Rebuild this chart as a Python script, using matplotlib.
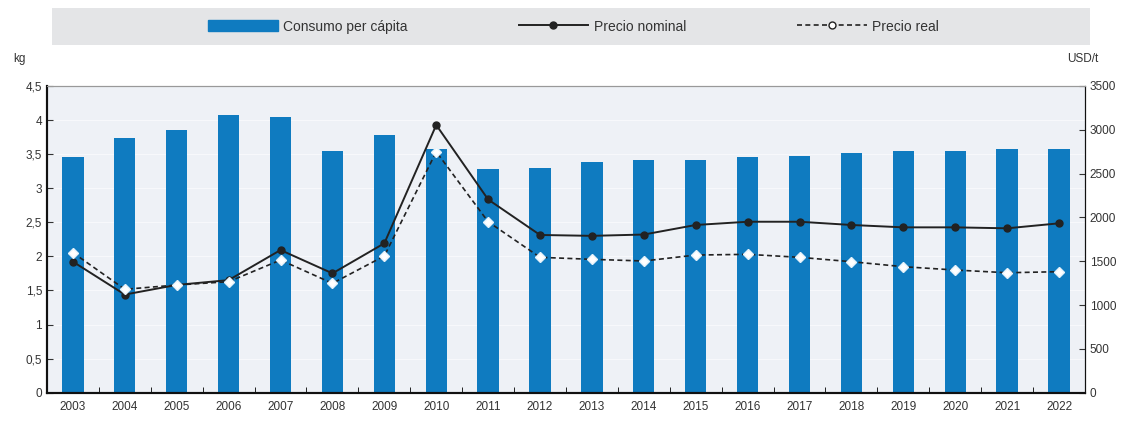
import matplotlib.pyplot as plt
from matplotlib.lines import Line2D
from matplotlib.patches import Patch, Rectangle
from matplotlib.ticker import FuncFormatter, MultipleLocator

plt.rcParams['font.family'] = ['Liberation Sans Narrow', 'Liberation Sans', 'DejaVu Sans']

# datos
years = [str(y) for y in range(2003, 2023)]
consumo = [3.46, 3.74, 3.86, 4.08, 4.04, 3.54, 3.78, 3.58, 3.28, 3.30,
           3.38, 3.42, 3.42, 3.46, 3.47, 3.51, 3.54, 3.55, 3.58, 3.58]
precio_nominal = [1495, 1120, 1230, 1285, 1628, 1362, 1705, 3055, 2205, 1800,
                  1790, 1805, 1914, 1951, 1951, 1914, 1887, 1887, 1876, 1933]
precio_real = [1598, 1180, 1229, 1267, 1514, 1248, 1560, 2750, 1951, 1545,
               1522, 1503, 1571, 1579, 1545, 1495, 1438, 1400, 1369, 1381]

azul = '#0f7bc0'
x = range(len(years))

fig = plt.figure(figsize=(11.38, 4.23), dpi=100)
ax = fig.add_axes([0.0413, 0.0716, 0.9121, 0.7251])
ax.set_facecolor('#eef1f6')
ax.bar(x, consumo, width=0.41, color=azul, zorder=2)
ax.set_xlim(-0.5, len(years) - 0.5)
ax.set_ylim(0, 4.5)
ax.yaxis.set_major_locator(MultipleLocator(0.5))
ax.yaxis.set_major_formatter(FuncFormatter(lambda v, p: ('%g' % v).replace('.', ',')))
ax.set_xticks(list(x))
ax.set_xticklabels(years)
ax.set_xticks([i + 0.5 for i in range(len(years) - 1)], minor=True)
ax.tick_params(axis='x', which='major', length=0, pad=6)
ax.tick_params(axis='x', which='minor', length=4, direction='in')
ax.tick_params(axis='y', length=4, direction='in')
ax.tick_params(labelsize=8.5, colors='#333333')
ax.grid(axis='y', color='#f7f8fb', linewidth=0.8, zorder=0)

ax2 = ax.twinx()
ax2.plot(x, precio_nominal, color='#222222', lw=1.4, marker='o', ms=5,
         mfc='#222222', mec='#222222', zorder=4)
ax2.plot(x, precio_real, color='#222222', lw=1.2, ls=(0, (3, 2)), marker='D', ms=5,
         mfc='white', mec='#e6f2fa', zorder=4)
ax2.set_ylim(0, 3500)
ax2.yaxis.set_major_locator(MultipleLocator(500))
ax2.tick_params(axis='y', length=4, direction='in', labelsize=8.5, colors='#333333')

for a in (ax, ax2):
    a.spines['top'].set_color('#999999')
    a.spines['left'].set_color('#111111')
    a.spines['bottom'].set_color('#111111')
    a.spines['right'].set_color('#111111')
    a.spines['left'].set_linewidth(1.5)
    a.spines['bottom'].set_linewidth(1.5)

fig.text(0.012, 0.853, 'kg', fontsize=8.5, color='#333333')
fig.text(0.938, 0.853, 'USD/t', fontsize=8.5, color='#333333')

# recuadro gris de la leyenda
fig.patches.append(Rectangle((0.0457, 0.8936), 0.912, 0.0875, transform=fig.transFigure,
                             facecolor='#e4e5e7', edgecolor='none', zorder=0))

handles = [Patch(color=azul),
           Line2D([], [], color='#222222', lw=1.4, marker='o', ms=5),
           Line2D([], [], color='#222222', lw=1.2, ls=(0, (3, 2)), marker='o', ms=5,
                  mfc='white', mec='#222222')]
labels = ['Consumo per cápita', 'Precio nominal', 'Precio real']
leg = fig.legend(handles, labels, ncol=3, loc='center',
                 bbox_to_anchor=(0.504, 0.9373), frameon=False, fontsize=10,
                 handlelength=5, handleheight=0.8, handletextpad=0.4, columnspacing=8)
for t in leg.get_texts():
    t.set_color('#333333')

fig.savefig('out.png', dpi=100)
